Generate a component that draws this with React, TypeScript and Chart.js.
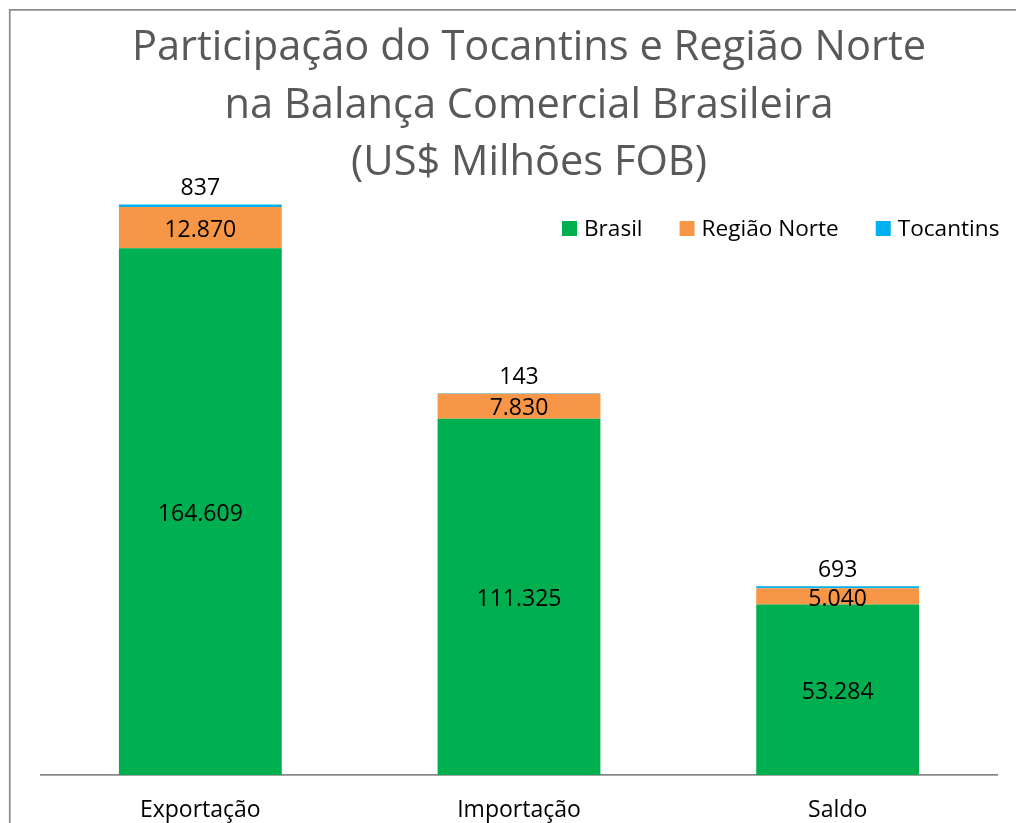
import React, { useEffect, useRef } from "react";
import { Chart, registerables } from "chart.js";

Chart.register(...registerables);

const categories = ["Exportação", "Importação", "Saldo"];
const brasil = [164609, 111325, 53284];
const regiaoNorte = [12870, 7830, 5040];
const tocantins = [837, 143, 693];
const seriesNames = ["Brasil", "Região Norte", "Tocantins"];
const seriesColors = ["#00B050", "#F79646", "#00B0F0"];
const titleLines = [
  "Participação do Tocantins e Região Norte",
  "na Balança Comercial Brasileira",
  "(US$ Milhões FOB)",
];
const yMax = 180000;

const FONT = "'Open Sans', 'Noto Sans', sans-serif";

function fmt(n: number): string {
  return String(n).replace(/\B(?=(\d{3})+(?!\d))/g, ".");
}

const framePlugin = {
  id: "frame",
  beforeDraw(chart: any) {
    const ctx = chart.ctx;
    ctx.save();
    ctx.fillStyle = "#ffffff";
    ctx.fillRect(0, 0, chart.width, chart.height);
    ctx.strokeStyle = "#8c8c8c";
    ctx.lineWidth = 1.75;
    ctx.beginPath();
    ctx.moveTo(9.75, chart.height + 2);
    ctx.lineTo(9.75, 9.75);
    ctx.lineTo(chart.width + 2, 9.75);
    ctx.stroke();
    ctx.restore();
  },
};

const titlePlugin = {
  id: "multiTitle",
  afterDraw(chart: any) {
    const ctx = chart.ctx;
    ctx.save();
    ctx.fillStyle = "#595959";
    ctx.font = `41.6px ${FONT}`;
    ctx.textAlign = "center";
    ctx.textBaseline = "alphabetic";
    const baselines = [60, 118, 175];
    titleLines.forEach((line, i) => ctx.fillText(line, 529, baselines[i]));
    ctx.restore();
  },
};

const legendPlugin = {
  id: "customLegend",
  afterDraw(chart: any) {
    const ctx = chart.ctx;
    ctx.save();
    ctx.font = `22.6px ${FONT}`;
    ctx.textBaseline = "alphabetic";
    ctx.textAlign = "left";
    let x = 562;
    const boxTop = 221;
    const baseline = 236;
    chart.data.datasets.forEach((ds: any) => {
      ctx.fillStyle = ds.backgroundColor;
      ctx.fillRect(x, boxTop, 15, 15);
      ctx.fillStyle = "#000000";
      ctx.fillText(ds.label, x + 22, baseline);
      x += 22 + ctx.measureText(ds.label).width + 37;
    });
    ctx.restore();
  },
};

const labelPlugin = {
  id: "segmentLabels",
  afterDatasetsDraw(chart: any) {
    const ctx = chart.ctx;
    ctx.save();
    const size = 23;
    ctx.font = `${size}px ${FONT}`;
    ctx.textAlign = "center";
    ctx.textBaseline = "alphabetic";
    ctx.fillStyle = "#000000";
    const last = chart.data.datasets.length - 1;
    chart.data.datasets.forEach((ds: any, di: number) => {
      const meta = chart.getDatasetMeta(di);
      meta.data.forEach((el: any, i: number) => {
        const v = ds.data[i] as number;
        const text = fmt(v);
        if (di === last) {
          const top = Math.min(el.y, el.base);
          ctx.fillText(text, el.x, top - 9);
        } else {
          const center = (el.y + el.base) / 2;
          ctx.fillText(text, el.x, center + size * 0.357 + 1);
        }
      });
    });
    ctx.restore();
  },
};

export default function App() {
  const canvasRef = useRef<HTMLCanvasElement | null>(null);

  useEffect(() => {
    if (!canvasRef.current) return;
    const datasetValues = [brasil, regiaoNorte, tocantins];
    const chart = new Chart(canvasRef.current, {
      type: "bar",
      data: {
        labels: categories,
        datasets: datasetValues.map((vals, i) => ({
          label: seriesNames[i],
          data: vals,
          backgroundColor: seriesColors[i],
          borderWidth: 0,
          categoryPercentage: 1,
          barPercentage: 0.511,
        })),
      },
      options: {
        responsive: false,
        animation: false,
        devicePixelRatio: 1,
        layout: { padding: { left: 41, right: 19, top: 199, bottom: 0 } },
        plugins: {
          legend: { display: false },
          title: { display: false },
          tooltip: { enabled: false },
        },
        scales: {
          x: {
            stacked: true,
            grid: { display: false, drawTicks: false },
            border: { display: true, color: "#888888", width: 1.75 },
            ticks: {
              color: "#000000",
              font: { family: FONT, size: 23 },
              padding: 22,
              maxRotation: 0,
              autoSkip: false,
            },
            afterFit: (scale: any) => {
              scale.height = 48;
            },
          },
          y: {
            stacked: true,
            display: false,
            min: 0,
            max: yMax,
          },
        },
      },
      plugins: [framePlugin, titlePlugin, legendPlugin, labelPlugin],
    });
    return () => chart.destroy();
  }, []);

  return (
    <div style={{ position: "absolute", left: 0, top: 0, width: 1016, height: 823, overflow: "hidden" }}>
      <canvas ref={canvasRef} width={1016} height={823} style={{ display: "block" }} />
    </div>
  );
}
